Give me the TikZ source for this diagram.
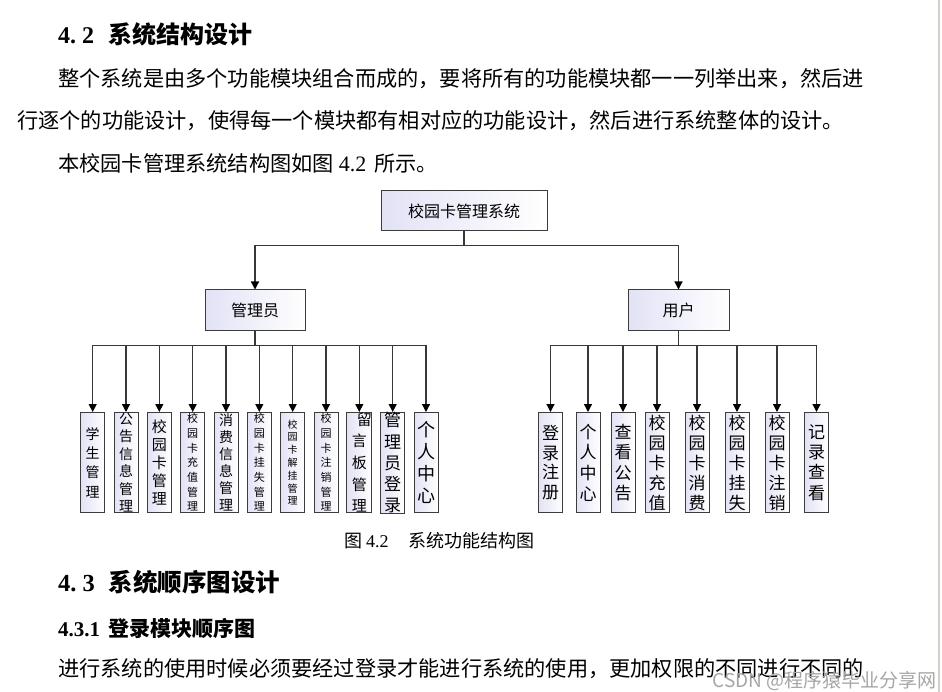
\documentclass[tikz,border=0pt]{standalone}
\usepackage{fontspec}
\setmainfont{Liberation Serif}
\newfontfamily\cjk{Noto Sans CJK SC}
\usetikzlibrary{arrows.meta,positioning}

\definecolor{boxline}{RGB}{60,60,60}
\definecolor{boxfill}{RGB}{226,226,246}
\definecolor{wline}{RGB}{55,55,55}
\definecolor{pageedge}{RGB}{212,208,200}

\tikzset{
  module/.style={draw=boxline, line width=1pt, left color=boxfill, right color=white,
    font=\cjk\fontsize{16}{16}\selectfont, inner sep=0pt},
  leaf/.style={module, minimum width=24pt, minimum height=100pt, anchor=north, align=center},
  textline/.style={anchor=west, inner sep=0pt, font=\cjk\fontsize{21.2}{21.2}\selectfont},
  wire/.style={draw=wline, line width=1.2pt}
}

\begin{document}
\begin{tikzpicture}[x=1pt,y=-1pt,>={Triangle[length=8pt,width=8pt,color=black]}]
  \useasboundingbox (0,0) rectangle (942,692);
  \fill[white] (0,0) rectangle (942,692);
  \draw[pageedge, line width=2pt] (938.5,0) -- (938.5,692);

  % text above the figure
  \node[textline, font=\cjk\bfseries\fontsize{24}{24}\selectfont] (h42) at (58,34)
    {{\rmfamily 4.\hspace{6pt}2}\hspace{14pt}系统结构设计};
  \node[textline] (p1) at (58,79) {整个系统是由多个功能模块组合而成的，要将所有的功能模块都一一列举出来，然后进};
  \node[textline] (p2) at (17,121) {行逐个的功能设计，使得每一个模块都有相对应的功能设计，然后进行系统整体的设计。};
  \node[textline] (p3) at (58,163)
    {本校园卡管理系统结构图如图\hspace{5pt}{\rmfamily\fontsize{22}{22}\selectfont 4.2}\hspace{8pt}所示。};

  % the structure chart
  \node[module, minimum width=166pt, minimum height=40pt] (sys) at (464,211) {校园卡管理系统};
  \node[module, minimum width=100pt, minimum height=41pt] (adm) at (255,310.5) {管理员};
  \node[module, minimum width=101pt, minimum height=41pt] (usr) at (678.5,310.5) {用户};

  \draw[wire, ->] (sys.south) -- ++(0,14) -| (adm.north);
  \draw[wire, ->] (sys.south) -- ++(0,14) -| (usr.north);

  \foreach \x/\s/\p/\t [count=\i] in {
      92.7/14/19.3/{学\\生\\管\\理},
      126/14/17.4/{公\\告\\信\\息\\管\\理},
      159.3/15/18/{校\\园\\卡\\管\\理},
      192.7/11/14.7/{校\\园\\卡\\充\\值\\管\\理},
      226/14/17/{消\\费\\信\\息\\管\\理},
      259.3/11/14.7/{校\\园\\卡\\挂\\失\\管\\理},
      292.7/10/12.8/{校\\园\\卡\\解\\挂\\管\\理},
      326/11/14.7/{校\\园\\卡\\注\\销\\管\\理},
      359.3/15/21.7/{\hspace*{10pt}留\\言\\板\\管\\理},
      392.7/17/21.2/{管\\理\\员\\登\\录},
      426/18/22.3/{个\\人\\中\\心}}{
    \node[leaf, font=\cjk\fontsize{\s}{\p}\selectfont] (a\i) at (\x,412) {\t};
    \draw[wire, ->] (adm.south) -- ++(0,14) -| (a\i.north);
  }

  \foreach \x/\p/\t [count=\i] in {
      550.5/19.7/{登\\录\\注\\册},
      588/20.7/{个\\人\\中\\心},
      623/20.3/{查\\看\\公\\告},
      657/20/{校\\园\\卡\\充\\值},
      697/20/{校\\园\\卡\\消\\费},
      737/20/{校\\园\\卡\\挂\\失},
      777/20/{校\\园\\卡\\注\\销},
      816.5/20.3/{记\\录\\查\\看}}{
    \node[leaf, font=\cjk\fontsize{17}{\p}\selectfont] (u\i) at (\x,412) {\t};
    \draw[wire, ->] (usr.south) -- ++(0,14) -| (u\i.north);
  }

  % text below the figure
  \node[textline, font=\cjk\fontsize{18}{18}\selectfont] (cap) at (344,541)
    {图\hspace{4pt}{\rmfamily 4.2}\hspace{20pt}系统功能结构图};
  \node[textline, font=\cjk\bfseries\fontsize{24.5}{24.5}\selectfont] (h43) at (58,582)
    {{\rmfamily 4.\hspace{6pt}3}\hspace{14pt}系统顺序图设计};
  \node[textline, font=\cjk\bfseries\fontsize{21}{21}\selectfont] (h431) at (58,628)
    {{\rmfamily 4.3.1}\hspace{8pt}登录模块顺序图};
  \node[textline] (p4) at (58,669) {进行系统的使用时候必须要经过登录才能进行系统的使用，更加权限的不同进行不同的};
  \node[anchor=east, inner sep=0pt, text=black!35, font=\cjk\fontsize{19}{19}\selectfont] (mark) at (937,681)
    {CSDN @程序猿毕业分享网};
\end{tikzpicture}
\end{document}
